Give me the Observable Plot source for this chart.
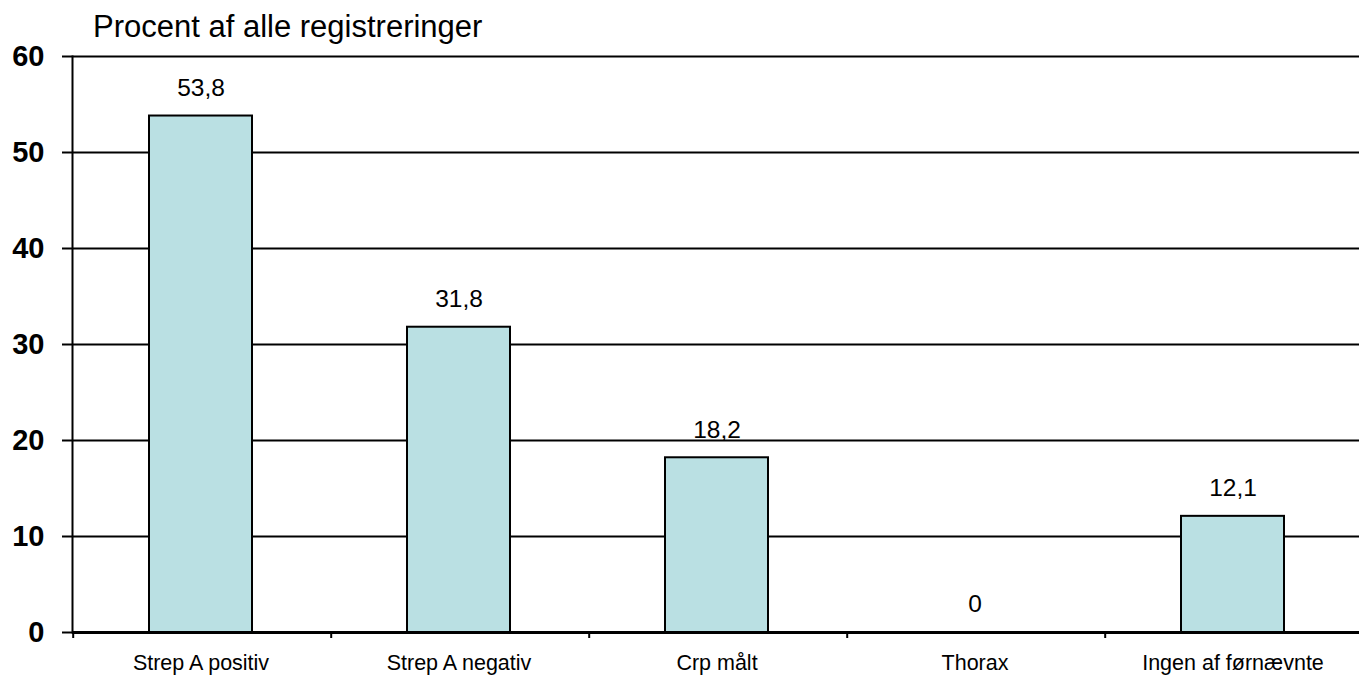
<!DOCTYPE html>
<html>
<head>
<meta charset="utf-8">
<script src="https://cdn.jsdelivr.net/npm/d3@7"></script>
<script src="https://cdn.jsdelivr.net/npm/@observablehq/plot@0.6"></script>
<style>
  html, body { margin: 0; padding: 0; background: #fff; overflow: hidden; }
  #wrap { position: relative; width: 1359px; height: 675px; }
  #title { position: absolute; left: 93px; top: 9px; line-height: 36px; font-family: "Liberation Sans", Arial, sans-serif; font-size: 31px; color: #000; white-space: nowrap; }
  svg { overflow: hidden; }
</style>
</head>
<body>
<div id="wrap">
  <div id="chart"></div>
  <div id="title">Procent af alle registreringer</div>
</div>
<script>
const categories = ["Strep A positiv", "Strep A negativ", "Crp målt", "Thorax", "Ingen af førnævnte"];
const values = [53.8, 31.8, 18.2, 0, 12.1];
const yTicks = [0, 10, 20, 30, 40, 50, 60];

const data = categories.map((c, i) => ({category: c, value: values[i]}));
const fmt = v => v === 0 ? "0" : d3.format(".1f")(v).replace(".", ",");

const left = 72, step = (1365 - 72) / categories.length;

const chart = Plot.plot({
  width: 1359,
  height: 675,
  marginLeft: 72,
  marginRight: 0,
  marginTop: 56,
  marginBottom: 43,
  style: {fontFamily: "'Liberation Sans', Arial, sans-serif", background: "#fff", color: "#000", overflow: "hidden"},
  x: {type: "band", domain: categories, range: [left - 1.5, 1365 - 1.5], paddingInner: 0.6, paddingOuter: 0.3, label: null},
  y: {domain: [0, 60], label: null},
  marks: [
    Plot.gridY(yTicks, {stroke: "#000", strokeOpacity: 1, strokeWidth: 2}),
    Plot.barY(data, {x: "category", y: "value", fill: "#BAE0E3", stroke: "#000", strokeWidth: 2}),
    Plot.text(data, {x: "category", y: "value", text: d => fmt(d.value), dy: -28, fontSize: 24.5, fill: "#000"}),
    Plot.ruleY([0], {stroke: "#000", strokeWidth: 3}),
    Plot.frame({anchor: "left", stroke: "#000", strokeWidth: 2}),
    Plot.axisY(yTicks, {tickSize: 10, tickPadding: 18, fontSize: 29, fontWeight: "bold", stroke: "#000", strokeWidth: 2, label: null}),
    Plot.axisX({tickSize: 6, dx: -step / 2 + 1.5, tickFormat: () => "", stroke: "#000", strokeWidth: 2, label: null}),
    Plot.axisX({tickSize: 0, tickPadding: 22, fontSize: 21.5, label: null})
  ]
});
document.getElementById("chart").appendChild(chart);
</script>
</body>
</html>
